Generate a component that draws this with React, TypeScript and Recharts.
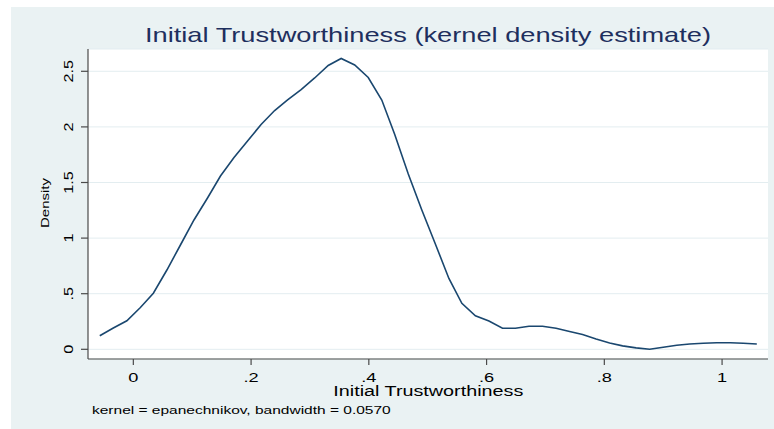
import React from 'react';
import { LineChart, Line, XAxis, YAxis, CartesianGrid } from 'recharts';

// Evaluation grid (50 points) and estimated density
const xGrid = [
  -0.057, -0.034, -0.011, 0.012, 0.034, 0.057, 0.08, 0.103, 0.126, 0.148,
  0.171, 0.194, 0.217, 0.24, 0.262, 0.285, 0.308, 0.331, 0.353, 0.376,
  0.399, 0.422, 0.444, 0.467, 0.49, 0.513, 0.536, 0.558, 0.581, 0.604,
  0.627, 0.649, 0.672, 0.695, 0.718, 0.741, 0.763, 0.786, 0.809, 0.831,
  0.854, 0.877, 0.9, 0.923, 0.945, 0.968, 0.991, 1.014, 1.036, 1.059,
];
const densityValues = [
  0.122, 0.192, 0.257, 0.376, 0.504, 0.713, 0.938, 1.163, 1.361, 1.558,
  1.725, 1.873, 2.022, 2.147, 2.242, 2.336, 2.44, 2.552, 2.615, 2.557,
  2.444, 2.242, 1.932, 1.576, 1.253, 0.947, 0.637, 0.414, 0.302, 0.254,
  0.189, 0.189, 0.207, 0.207, 0.189, 0.16, 0.133, 0.093, 0.057, 0.031,
  0.013, 0.0, 0.019, 0.037, 0.048, 0.054, 0.059, 0.059, 0.054, 0.048,
];
const xTicks = [0, 0.2, 0.4, 0.6, 0.8, 1];
const xTickLabels = ['0', '.2', '.4', '.6', '.8', '1'];
const yTicks = [0, 0.5, 1, 1.5, 2, 2.5];
const yTickLabels = ['0', '.5', '1', '1.5', '2', '2.5'];
const titleText = 'Initial Trustworthiness (kernel density estimate)';
const xTitle = 'Initial Trustworthiness';
const yTitle = 'Density';
const noteText = 'kernel = epanechnikov, bandwidth = 0.0570';

const data = xGrid.map((x, i) => ({ x, density: densityValues[i] }));

const FONT = '"Liberation Sans", Arial, Helvetica, sans-serif';
const AXIS = '#4a4a4a';

function XTick(props: any) {
  const { x, y, payload } = props;
  const i = xTicks.indexOf(payload.value);
  const label = i >= 0 ? xTickLabels[i] : String(payload.value);
  return (
    <text
      transform={`translate(${x},${y + 14.7}) scale(1.4,1)`}
      textAnchor="middle"
      fontSize={13}
      fontFamily={FONT}
      fill="#000"
    >
      {label}
    </text>
  );
}

function YTick(props: any) {
  const { x, y, payload } = props;
  const i = yTicks.indexOf(payload.value);
  const label = i >= 0 ? yTickLabels[i] : String(payload.value);
  return (
    <text
      transform={`translate(${x - 6},${y}) rotate(-90) scale(1.35,1)`}
      textAnchor="middle"
      fontSize={12}
      fontFamily={FONT}
      fill="#000"
    >
      {label}
    </text>
  );
}

function XTitle() {
  return (
    <text
      x={333.3}
      y={395.7}
      fontSize={14}
      fontFamily={FONT}
      fill="#000"
      textLength={190}
      lengthAdjust="spacingAndGlyphs"
    >
      {xTitle}
    </text>
  );
}

function YTitle() {
  return (
    <text
      transform="translate(49,203) rotate(-90)"
      x={0}
      y={0}
      textAnchor="middle"
      fontSize={11.6}
      fontFamily={FONT}
      fill="#000"
      textLength={50}
      lengthAdjust="spacingAndGlyphs"
    >
      {yTitle}
    </text>
  );
}

export default function App() {
  return (
    <div style={{ position: 'absolute', left: 0, top: 0, width: 774, height: 429, background: '#ffffff', overflow: 'hidden' }}>
      <div style={{ position: 'absolute', left: 11, top: 7, width: 763, height: 422, background: '#EAF2F3' }} />
      <div style={{ position: 'absolute', left: 0, top: 0 }}>
        <LineChart
          width={774}
          height={429}
          data={data}
          margin={{ top: 49, right: 6, left: 28, bottom: 20 }}
        >
          <CartesianGrid
            vertical={false}
            horizontal={true}
            stroke="#E3EDF0"
            strokeWidth={1}
            fill="#ffffff"
            fillOpacity={1}
          />
          <XAxis
            dataKey="x"
            type="number"
            domain={[-0.077, 1.078]}
            ticks={xTicks}
            allowDataOverflow
            height={50}
            tickSize={6}
            tickMargin={2}
            stroke={AXIS}
            axisLine={{ stroke: AXIS, strokeWidth: 1.2 }}
            tickLine={{ stroke: AXIS, strokeWidth: 1.2 }}
            tick={<XTick />}
            label={<XTitle />}
          />
          <YAxis
            type="number"
            domain={[-0.0872, 2.7005]}
            ticks={yTicks}
            allowDataOverflow
            width={60}
            tickSize={7}
            tickMargin={2}
            stroke={AXIS}
            axisLine={{ stroke: AXIS, strokeWidth: 1.2 }}
            tickLine={{ stroke: AXIS, strokeWidth: 1.2 }}
            tick={<YTick />}
            label={<YTitle />}
          />
          <Line
            type="linear"
            dataKey="density"
            stroke="#1A476F"
            strokeWidth={1.6}
            dot={false}
            activeDot={false}
            isAnimationActive={false}
          />
        </LineChart>
      </div>
      <svg width={774} height={429} style={{ position: 'absolute', left: 0, top: 0, pointerEvents: 'none' }}>
        <text
          x={145}
          y={42}
          fontSize={21}
          fontFamily={FONT}
          fill="#1E2F5E"
          textLength={566}
          lengthAdjust="spacingAndGlyphs"
        >
          {titleText}
        </text>
        <text
          x={92}
          y={414.3}
          fontSize={11.5}
          fontFamily={FONT}
          fill="#000"
          textLength={298.7}
          lengthAdjust="spacingAndGlyphs"
        >
          {noteText}
        </text>
      </svg>
    </div>
  );
}
